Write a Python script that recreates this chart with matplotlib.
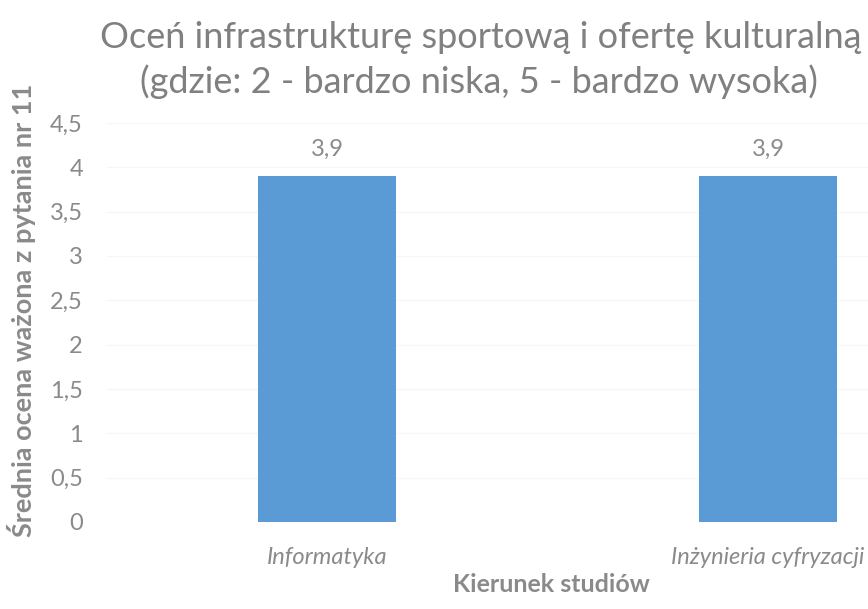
import numpy as np
import matplotlib.pyplot as plt

# data
kierunki = ['Informatyka', 'Inżynieria cyfryzacji']
oceny = [3.9, 3.9]
etykiety = ['3,9', '3,9']
yticks = [0, 0.5, 1, 1.5, 2, 2.5, 3, 3.5, 4, 4.5]
ytick_labels = ['0', '0,5', '1', '1,5', '2', '2,5', '3', '3,5', '4', '4,5']

plt.rcParams['font.family'] = ['Lato', 'DejaVu Sans']

W, H = 868, 609
fig = plt.figure(figsize=(W / 100, H / 100), dpi=100)

# plot area runs past the right edge, as in the cropped scan
ax = fig.add_axes([106.5 / W, 1 - 522 / H, 882 / W, (522 - 123) / H])

index = np.arange(len(kierunki))
ax.bar(index, oceny, 0.313, color='#5b9bd5', zorder=2)
ax.set_xlim(-0.5, len(kierunki) - 0.5)
ax.set_ylim(0, 4.5)

ax.set_yticks(yticks)
ax.set_yticklabels(ytick_labels)
ax.set_xticks(index)
ax.set_xticklabels(kierunki, fontstyle='italic')
ax.tick_params(axis='y', length=0, pad=17, labelsize=17, labelcolor='#8a8a8a')
ax.tick_params(axis='x', length=0, pad=18, labelsize=17, labelcolor='#8a8a8a')
ax.yaxis.grid(True, color='#f6f6f6', linewidth=1, zorder=0)
for s in ax.spines.values():
    s.set_visible(False)

for i, (v, t) in enumerate(zip(oceny, etykiety)):
    ax.annotate(t, (i, v), xytext=(0, 19.5), textcoords='offset points',
                ha='center', va='center', fontsize=17, color='#8a8a8a')

fig.text(481 / W, 1 - 38 / H, 'Oceń infrastrukturę sportową i ofertę kulturalną',
         ha='center', va='center', fontsize=26, color='#808080')
fig.text(479 / W, 1 - 82 / H, '(gdzie: 2 - bardzo niska, 5 - bardzo wysoka)',
         ha='center', va='center', fontsize=26, color='#808080')

fig.text(22 / W, 1 - 310 / H, 'Średnia ocena ważona z pytania nr 11', rotation=90,
         ha='center', va='center', fontsize=19.5, fontweight='bold', color='#8a8a8a')
fig.text(551 / W, 1 - 585 / H, 'Kierunek studiów',
         ha='center', va='center', fontsize=18, fontweight='bold', color='#8a8a8a')

fig.savefig('out.png', dpi=100)
